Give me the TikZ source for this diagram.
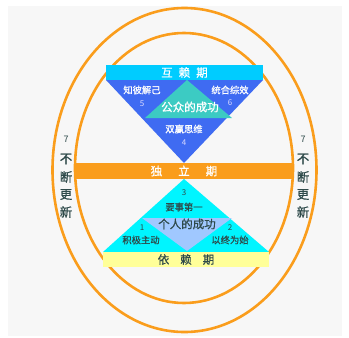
\documentclass[tikz,border=0pt]{standalone}
\usepackage{fontspec}
\setmainfont{Noto Sans CJK SC}
\newfontfamily\semib[FakeBold=0.8]{Noto Sans CJK SC}
\begin{document}
\begin{tikzpicture}[x=1pt,y=-1pt,
  lbl/.style={inner sep=0pt,font=\semib\fontsize{9.3}{10}\selectfont},
  num/.style={inner sep=0pt,font=\fontsize{8}{9}\selectfont},
  big/.style={inner sep=0pt,font=\semib\fontsize{11.5}{12}\selectfont},
  ring/.style={draw=ringor,line width=2.6pt}]
\definecolor{ringor}{HTML}{FA9D1C}
\definecolor{barcyan}{HTML}{00CCFF}
\definecolor{royal}{HTML}{3F6BF2}
\definecolor{teal}{HTML}{3CCBC3}
\definecolor{aqua}{HTML}{00F5FF}
\definecolor{lblue}{HTML}{A0C8FF}
\definecolor{lyellow}{HTML}{FFFF99}
\definecolor{darktxt}{HTML}{2E4A4A}
\definecolor{panel}{HTML}{F7F7F7}
\useasboundingbox (0,0) rectangle (349,338);
\fill[white] (0,0) rectangle (349,338);
\fill[panel] (8,6) rectangle (342,336);
% rings
\draw[ring] (184.5,170) ellipse [x radius=132, y radius=162];
\draw[ring] (184,168) ellipse [x radius=109, y radius=135];
% top group
\fill[royal] (106,80) -- (263,80) -- (184,163) -- cycle;
\fill[teal] (187,80) -- (232,118) -- (145,118) -- cycle;
\fill[barcyan] (106,65) rectangle (263,80);
\node[big,text=white] (hulai) at (184.5,72.5) {互\hspace{6pt}赖\hspace{6pt}期};
\node[lbl,text=white] (zhibi) at (142,90) {知彼解己};
\node[num,text=white!85!blue] (n5) at (142,104) {5};
\node[lbl,text=white] (tonghe) at (230,90) {统合综效};
\node[num,text=white!85!blue] (n6) at (230,103) {6};
\node[big,text=white] (gongzhong) at (190,107) {公众的成功};
\node[lbl,text=white] (shuangying) at (184,129) {双赢思维};
\node[num,text=white!85!blue] (n4) at (184,143) {4};
% middle bar
\fill[ringor] (75,163) rectangle (293,179);
\node[big,text=white] (duli) at (184,171) {独\hspace{16pt}立\hspace{16pt}期};
% bottom group
\fill[aqua] (184,179) -- (269,252) -- (103,252) -- cycle;
\fill[lblue] (142,218) -- (232,218) -- (187,251) -- cycle;
\fill[lyellow] (103,252) rectangle (269,267);
\node[big,text=darktxt] (yilai) at (186,259.5) {依\hspace{11pt}赖\hspace{11pt}期};
\node[num,text=darktxt] (n3) at (184,193) {3};
\node[lbl,text=darktxt] (yaoshi) at (184,207) {要事第一};
\node[big,text=darktxt] (geren) at (187,224) {个人的成功};
\node[num,text=darktxt] (n1) at (142,228) {1};
\node[lbl,text=darktxt] (jiji) at (141,240) {积极主动};
\node[num,text=darktxt] (n2) at (230,228) {2};
\node[lbl,text=darktxt] (yizhong) at (230,240) {以终为始};
% side labels
\foreach \side/\x in {L/66,R/303}{
  \node[num,text=darktxt,font=\fontsize{9}{10}\selectfont] (s7\side) at (\x,139) {7};
  \node[big,text=darktxt,font=\semib\fontsize{12.5}{13}\selectfont] (sa\side) at (\x,159) {不};
  \node[big,text=darktxt,font=\semib\fontsize{12.5}{13}\selectfont] (sb\side) at (\x,177) {断};
  \node[big,text=darktxt,font=\semib\fontsize{12.5}{13}\selectfont] (sc\side) at (\x,194.5) {更};
  \node[big,text=darktxt,font=\semib\fontsize{12.5}{13}\selectfont] (sd\side) at (\x,212) {新};
}
\end{tikzpicture}
\end{document}
